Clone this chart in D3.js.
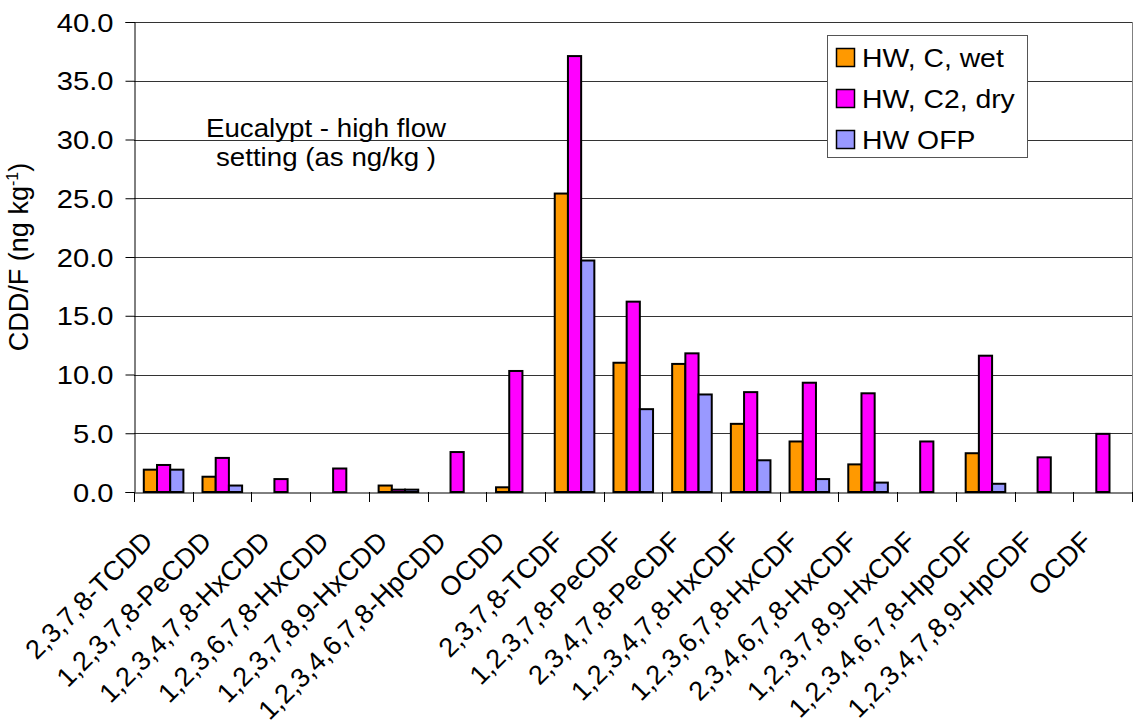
<!DOCTYPE html>
<html><head><meta charset="utf-8">
<script src="https://cdn.jsdelivr.net/npm/d3@7"></script>
<style>body{margin:0;background:#fff}text{font-family:"Liberation Sans",Arial,sans-serif;fill:#000}</style>
</head><body><svg id="c" width="1135" height="727"></svg>
<script>
const categories = ["2,3,7,8-TCDD","1,2,3,7,8-PeCDD","1,2,3,4,7,8-HxCDD","1,2,3,6,7,8-HxCDD","1,2,3,7,8,9-HxCDD","1,2,3,4,6,7,8-HpCDD","OCDD","2,3,7,8-TCDF","1,2,3,7,8-PeCDF","2,3,4,7,8-PeCDF","1,2,3,4,7,8-HxCDF","1,2,3,6,7,8-HxCDF","2,3,4,6,7,8-HxCDF","1,2,3,7,8,9-HxCDF","1,2,3,4,6,7,8-HpCDF","1,2,3,4,7,8,9-HpCDF","OCDF"];
const seriesNames = ["HW, C, wet","HW, C2, dry","HW OFP"];
const wet = [1.9,1.3,null,null,0.55,null,0.4,25.4,11.0,10.9,5.8,4.3,2.35,null,3.3,null,null];
const dry = [2.3,2.9,1.1,2.0,0.2,3.4,10.3,37.1,16.2,11.8,8.5,9.3,8.4,4.3,11.6,2.95,4.95];
const ofp = [1.9,0.55,null,null,0.2,null,null,19.7,7.05,8.3,2.7,1.1,0.8,null,0.7,null,null];
const colors = ["#FF9900","#FF00FF","#9999FF"];
const yTicks = [0,5,10,15,20,25,30,35,40];
const yTitle = "CDD/F (ng kg";
const note = ["Eucalypt - high flow","setting (as ng/kg )"];

const FS = 26.5;
const svg = d3.select("#c");
const L = 134, R = 1132, T = 22, B = 492;
const x0 = d3.scaleBand().domain(categories).range([L, R]).padding(0);
const x1 = d3.scaleBand().domain(seriesNames).range([9.8, 49.4]).padding(0);
const y = d3.scaleLinear().domain([0, 40]).range([B, T]);
const color = d3.scaleOrdinal().domain(seriesNames).range(colors);

// gridlines
svg.append("g").selectAll("line").data(yTicks.filter(d => d > 0)).join("line")
  .attr("x1", L).attr("x2", R).attr("y1", d => Math.round(y(d)) + 0.5).attr("y2", d => Math.round(y(d)) + 0.5)
  .attr("stroke", "#333").attr("stroke-width", 1);
svg.append("line").attr("x1", R + 0.5).attr("x2", R + 0.5).attr("y1", T).attr("y2", B).attr("stroke", "#808080");

// bars
const rows = [];
categories.forEach((c, i) => {
  [wet, dry, ofp].forEach((arr, s) => { if (arr[i] != null) rows.push({c, s: seriesNames[s], v: arr[i]}); });
});
svg.append("g").selectAll("rect").data(rows).join("rect")
  .attr("x", d => x0(d.c) + x1(d.s)).attr("width", x1.bandwidth())
  .attr("y", d => y(d.v)).attr("height", d => B - y(d.v))
  .attr("fill", d => color(d.s)).attr("stroke", "#000").attr("stroke-width", 2);

// y axis
const ya = svg.append("g").attr("transform", `translate(${L + 0.5},0)`)
  .call(d3.axisLeft(y).tickValues(yTicks).tickFormat(d3.format(".1f")).tickSizeOuter(0).tickSize(9));
ya.select(".domain").attr("stroke", "#000");
ya.selectAll("text").attr("x", null).attr("dy", null).attr("text-anchor", "end")
  .attr("transform", `translate(-21,9) scale(1.1,1)`)
  .attr("font-size", FS).style("font-family", '"Liberation Sans",Arial,sans-serif');

// x axis
const xa = svg.append("g").attr("transform", `translate(0,${B + 0.5})`)
  .call(d3.axisBottom(x0).tickSize(0).tickFormat(""));
xa.select(".domain").attr("stroke", "#000");
const bounds = categories.map(c => x0(c)).concat([R]);
svg.append("g").selectAll("line").data(bounds).join("line")
  .attr("x1", d => Math.round(d) + 0.5).attr("x2", d => Math.round(d) + 0.5)
  .attr("y1", B).attr("y2", B + 10).attr("stroke", "#000");
svg.append("g").selectAll("text").data(categories).join("text")
  .attr("transform", d => `translate(${x0(d) + x0.bandwidth() / 2 - 9},${B + 51}) rotate(-45)`)
  .attr("text-anchor", "end").attr("font-size", 27).text(d => d);

// y title
const yt = svg.append("text").attr("transform", `translate(28,${(T + B) / 2}) rotate(-90)`)
  .attr("text-anchor", "middle").attr("font-size", 27);
yt.append("tspan").text(yTitle);
yt.append("tspan").attr("font-size", 16).attr("dy", -10).text("-1");
yt.append("tspan").attr("dy", 10).text(")");

// annotation
svg.append("g").selectAll("text").data(note).join("text")
  .attr("transform", (d, i) => `translate(326,${137 + i * 29}) scale(1.045,1)`).attr("text-anchor", "middle")
  .attr("font-size", FS).text(d => d);

// legend
const lg = svg.append("g");
lg.append("rect").attr("x", 827.5).attr("y", 35.5).attr("width", 200).attr("height", 122)
  .attr("fill", "#fff").attr("stroke", "#555");
seriesNames.forEach((s, i) => {
  lg.append("rect").attr("x", 836.5).attr("y", 48.5 + i * 41).attr("width", 18).attr("height", 18)
    .attr("fill", color(s)).attr("stroke", "#000").attr("stroke-width", 1.5);
  lg.append("text").attr("transform", `translate(862,${67 + i * 41}) scale(1.07,1)`).attr("font-size", FS).text(s);
});
</script></body></html>
